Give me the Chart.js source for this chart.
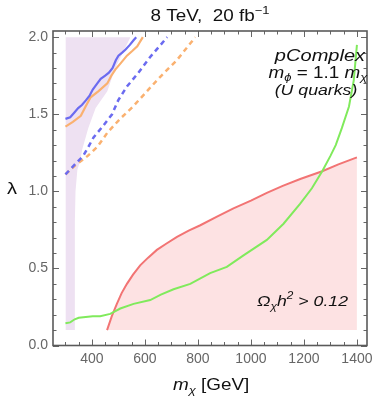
<!DOCTYPE html>
<html>
<head>
<meta charset="utf-8">
<script src="https://cdn.jsdelivr.net/npm/chart.js@4.4.0/dist/chart.umd.min.js"></script>
<style>
  html, body { margin: 0; padding: 0; background: #fff; }
</style>
</head>
<body>
<canvas id="myChart" width="374" height="398"></canvas>
<script>
// tick labels
const xTicks = [400, 600, 800, 1000, 1200, 1400];
const yTicks = [0.0, 0.5, 1.0, 1.5, 2.0];

// purple excluded region (right edge, filled up to 2.0)
const purpleM = [300, 334, 335, 336, 338, 345, 356, 363, 386, 414, 458, 488, 545];
const purpleL = [0.1, 0.1, 0.5, 0.8, 1.0, 1.14, 1.20, 1.27, 1.41, 1.54, 1.65, 1.80, 2.0];

// solid limits
const blueSolidM = [300, 318, 333, 348, 362, 377, 391, 403, 416, 433, 450, 464, 478, 490, 500, 514, 527, 543, 557, 567];
const blueSolidL = [1.47, 1.48, 1.51, 1.54, 1.56, 1.59, 1.62, 1.66, 1.69, 1.73, 1.75, 1.77, 1.80, 1.85, 1.88, 1.90, 1.92, 1.95, 1.98, 2.0];
const orangeSolidM = [300, 328, 358, 376, 395, 425, 458, 473, 488, 508, 532, 552, 571, 592];
const orangeSolidL = [1.42, 1.45, 1.49, 1.55, 1.61, 1.65, 1.70, 1.75, 1.79, 1.83, 1.88, 1.91, 1.94, 2.0];

// dashed limits
const blueDashM = [300, 333, 367, 384, 406, 440, 476, 499, 532, 571, 619, 684];
const blueDashL = [1.11, 1.17, 1.23, 1.28, 1.35, 1.42, 1.50, 1.59, 1.68, 1.76, 1.87, 2.0];
const orangeDashM = [300, 338, 384, 421, 458, 506, 555, 608, 656, 720, 790];
const orangeDashL = [1.11, 1.17, 1.23, 1.29, 1.38, 1.47, 1.55, 1.65, 1.74, 1.85, 2.0];

// relic density line
const redM = [457, 475, 494, 512, 532, 555, 582, 612, 645, 680, 721, 765, 809, 870, 934, 1000, 1060, 1120, 1186, 1269, 1330, 1400];
const redL = [0.10, 0.19, 0.27, 0.34, 0.40, 0.46, 0.52, 0.57, 0.62, 0.66, 0.705, 0.745, 0.78, 0.835, 0.89, 0.94, 0.99, 1.035, 1.08, 1.13, 1.175, 1.22];

// green line
const greenM = [300, 318, 335, 350, 403, 431, 469, 507, 557, 620, 660, 708, 771, 846, 909, 972, 1060, 1123, 1186, 1230, 1269, 1300, 1320, 1343, 1370, 1388, 1400];
const greenL = [0.145, 0.15, 0.17, 0.18, 0.19, 0.19, 0.205, 0.24, 0.27, 0.295, 0.33, 0.365, 0.40, 0.47, 0.51, 0.585, 0.685, 0.79, 0.92, 1.02, 1.13, 1.23, 1.30, 1.41, 1.55, 1.72, 1.95];

const toPts = (xs, ys) => xs.map((x, i) => ({x: x, y: ys[i]}));

const FONT = '"Liberation Sans", Arial, sans-serif';
const SX = 1.18; // text in the original is a bit wider than Arial

// draws a row of text pieces with different fonts / offsets
function drawRuns(ctx, runs, x, y, align) {
  let w = 0;
  runs.forEach(r => { ctx.font = r[1]; w += ctx.measureText(r[0]).width * SX; });
  let cx = align === 'center' ? x - w / 2 : (align === 'right' ? x - w : x);
  runs.forEach(r => {
    ctx.font = r[1];
    ctx.save();
    ctx.translate(cx, y + (r[2] || 0));
    ctx.scale(SX, 1);
    ctx.fillText(r[0], 0, 0);
    ctx.restore();
    cx += ctx.measureText(r[0]).width * SX;
  });
}

const framePlugin = {
  id: 'frame',
  afterDatasetsDraw(chart) {
    const {ctx, chartArea: a, scales: {x, y}} = chart;
    ctx.save();
    ctx.strokeStyle = '#666';
    ctx.lineWidth = 1;
    ctx.beginPath();
    for (let v = 300; v <= 1400; v += 50) {
      const px = Math.round(x.getPixelForValue(v)) + 0.5;
      const len = v % 200 === 0 ? 6 : 3.5;
      ctx.moveTo(px, a.bottom); ctx.lineTo(px, a.bottom - len);
      ctx.moveTo(px, a.top); ctx.lineTo(px, a.top + len);
    }
    for (let i = 0; i <= 20; i++) {
      const py = Math.round(y.getPixelForValue(i / 10)) + 0.5;
      const len = i % 5 === 0 ? 6 : 3.5;
      ctx.moveTo(a.left, py); ctx.lineTo(a.left + len, py);
      ctx.moveTo(a.right, py); ctx.lineTo(a.right - len, py);
    }
    ctx.stroke();
    ctx.lineWidth = 1.6;
    ctx.strokeStyle = '#5a5a5a';
    ctx.strokeRect(a.left, a.top, a.right - a.left, a.bottom - a.top);
    ctx.restore();
  },
  afterDraw(chart) {
    const ctx = chart.ctx;
    ctx.save();
    ctx.fillStyle = '#111';
    ctx.textBaseline = 'alphabetic';
    // title
    drawRuns(ctx, [['8 TeV,  20 fb', '16px ' + FONT], ['\u22121', '11px ' + FONT, -7]], 210, 21, 'center');
    // labels inside plot
    drawRuns(ctx, [['pComplex', 'italic 17px ' + FONT]], 320, 61, 'center');
    drawRuns(ctx, [['m', 'italic 16px ' + FONT], ['\u03D5', 'italic 11px ' + FONT, 3],
      [' = 1.1 ', '16px ' + FONT], ['m', 'italic 16px ' + FONT], ['\u03C7', 'italic 11px ' + FONT, 3]], 318, 78, 'center');
    drawRuns(ctx, [['(U quarks)', 'italic 15px ' + FONT]], 316, 95, 'center');
    drawRuns(ctx, [['\u03A9', 'italic 15px ' + FONT], ['\u03C7', 'italic 10px ' + FONT, 4],
      ['h', 'italic 15px ' + FONT], ['2', 'italic 10px ' + FONT, -7], [' > 0.12', 'italic 15px ' + FONT]], 348, 306, 'right');
    // axis titles
    drawRuns(ctx, [['m', 'italic 16px ' + FONT], ['\u03C7', 'italic 11px ' + FONT, 4], [' [GeV]', '16px ' + FONT]], 173, 390, 'left');
    drawRuns(ctx, [['\u03BB', '17px ' + FONT]], 12, 194, 'center');
    ctx.restore();
  }
};

const config = {
  type: 'line',
  data: {
    datasets: [
      {
        label: 'green',
        data: toPts(greenM, greenL),
        borderColor: '#80ea5c',
        borderWidth: 2,
        order: 1
      },
      {
        label: 'relic',
        data: toPts(redM, redL),
        borderColor: '#f27474',
        backgroundColor: '#fde2e3',
        borderWidth: 2,
        fill: {value: 0.1},
        order: 2
      },
      {
        label: 'blue solid',
        data: toPts(blueSolidM, blueSolidL),
        borderColor: '#6b6bf0',
        borderWidth: 2.2,
        order: 3
      },
      {
        label: 'blue dashed',
        data: toPts(blueDashM, blueDashL),
        borderColor: '#6b6bf0',
        borderWidth: 2.5,
        borderDash: [5, 4],
        order: 4
      },
      {
        label: 'orange solid',
        data: toPts(orangeSolidM, orangeSolidL),
        borderColor: '#fab170',
        borderWidth: 2.2,
        order: 5
      },
      {
        label: 'orange dashed',
        data: toPts(orangeDashM, orangeDashL),
        borderColor: '#fab170',
        borderWidth: 2.5,
        borderDash: [5, 4],
        order: 6
      },
      {
        label: 'purple',
        data: toPts(purpleM, purpleL),
        borderWidth: 0,
        borderColor: 'rgba(0,0,0,0)',
        backgroundColor: '#eee1f2',
        fill: {value: 2.0},
        order: 10
      }
    ]
  },
  options: {
    responsive: false,
    animation: false,
    devicePixelRatio: 1,
    elements: { point: { radius: 0 }, line: { tension: 0 } },
    layout: { padding: { top: 31, right: 7, left: 0, bottom: 0 } },
    plugins: {
      legend: { display: false },
      tooltip: { enabled: false },
      filler: { drawTime: 'beforeDatasetsDraw' }
    },
    scales: {
      x: {
        type: 'linear',
        min: 253,
        max: 1438,
        grid: { display: false, drawTicks: false },
        border: { display: false },
        ticks: {
          color: '#666',
          font: { family: FONT, size: 14 },
          padding: 5,
          maxRotation: 0,
          autoSkip: false,
          callback: v => String(v)
        },
        afterBuildTicks: s => { s.ticks = xTicks.map(v => ({value: v})); },
        afterFit: s => { s.height = 52.5; s.paddingLeft = 0; s.paddingRight = 0; }
      },
      y: {
        type: 'linear',
        min: 0,
        max: 2.04,
        grid: { display: false, drawTicks: false },
        border: { display: false },
        ticks: {
          color: '#666',
          font: { family: FONT, size: 14 },
          padding: 5,
          autoSkip: false,
          callback: v => v.toFixed(1)
        },
        afterBuildTicks: s => { s.ticks = yTicks.map(v => ({value: v})); },
        afterFit: s => { s.width = 53; s.paddingTop = 0; s.paddingBottom = 0; }
      }
    }
  },
  plugins: [framePlugin]
};

const myChart = new Chart(document.getElementById('myChart'), config);
</script>
</body>
</html>
